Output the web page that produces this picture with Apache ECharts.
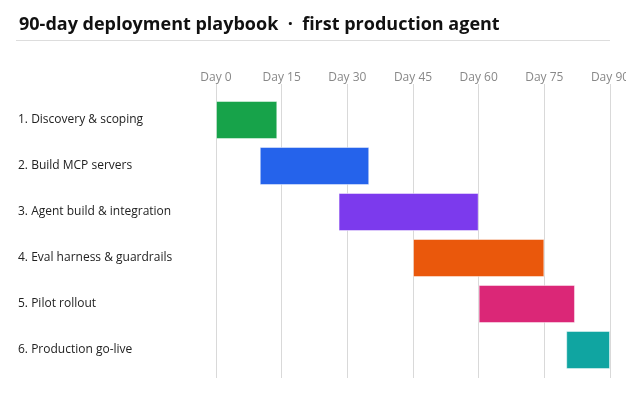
<!DOCTYPE html>
<html>
<head>
<meta charset="utf-8">
<script src="https://cdn.jsdelivr.net/npm/echarts@6/dist/echarts.min.js"></script>
<style>
html,body{margin:0;padding:0;background:#fff;}
#chart{width:626px;height:417px;}
</style>
</head>
<body>
<div id="chart"></div>
<script>
const phases = [
  "1. Discovery & scoping",
  "2. Build MCP servers",
  "3. Agent build & integration",
  "4. Eval harness & guardrails",
  "5. Pilot rollout",
  "6. Production go-live"
];
const startDays = [0, 10, 28, 45, 60, 80];
const endDays = [14, 35, 60, 75, 82, 90];
const phaseColors = ["#17a34a", "#2563eb", "#7c3aed", "#ea580c", "#db2777", "#10a5a1"];
const dayTicks = [0, 15, 30, 45, 60, 75, 90];

const FONT = "'Open Sans', 'Noto Sans', sans-serif";
const chart = echarts.init(document.getElementById('chart'), null, {renderer: 'canvas'});

const durations = endDays.map((e, i) => ({
  value: e - startDays[i],
  itemStyle: {color: phaseColors[i]}
}));

chart.setOption({
  animation: false,
  textStyle: {fontFamily: FONT},
  title: {
    text: "90-day deployment playbook  ·  first production agent",
    left: 14, top: 11,
    textStyle: {fontFamily: FONT, fontSize: 18, fontWeight: 'bold', color: '#111'}
  },
  graphic: [{
    type: 'line',
    shape: {x1: 16, y1: 40.5, x2: 610, y2: 40.5},
    style: {stroke: '#dddddd', lineWidth: 1}
  }],
  grid: {left: 216, right: 16, top: 97, bottom: 44, containLabel: false, outerBoundsMode: 'none'},
  xAxis: [{
    type: 'value', position: 'top', min: dayTicks[0], max: dayTicks[dayTicks.length - 1], interval: 15,
    axisLine: {show: false},
    axisTick: {show: true, length: 13, lineStyle: {color: '#d9d9d9'}},
    splitLine: {show: true, lineStyle: {color: '#d9d9d9', width: 1}},
    axisLabel: {formatter: 'Day {value}', color: '#888', fontSize: 12, margin: 13, fontFamily: FONT, showMaxLabel: true}
  }, {
    type: 'value', position: 'bottom', min: 0, max: 90, interval: 15,
    axisLine: {show: false},
    axisTick: {show: true, length: 5, lineStyle: {color: '#d9d9d9'}},
    splitLine: {show: false},
    axisLabel: {show: false}
  }],
  yAxis: {
    type: 'category', inverse: true, data: phases,
    axisLine: {show: false}, axisTick: {show: false},
    axisLabel: {align: 'left', margin: 198, color: '#222', fontSize: 12, fontFamily: FONT}
  },
  series: [{
    type: 'bar', stack: 'g', data: startDays, barWidth: 38,
    itemStyle: {color: 'transparent'}, silent: true
  }, {
    type: 'bar', stack: 'g', data: durations, barWidth: 38,
    itemStyle: {borderColor: 'rgba(255,255,255,0.45)', borderWidth: 1}
  }]
});
</script>
</body>
</html>
